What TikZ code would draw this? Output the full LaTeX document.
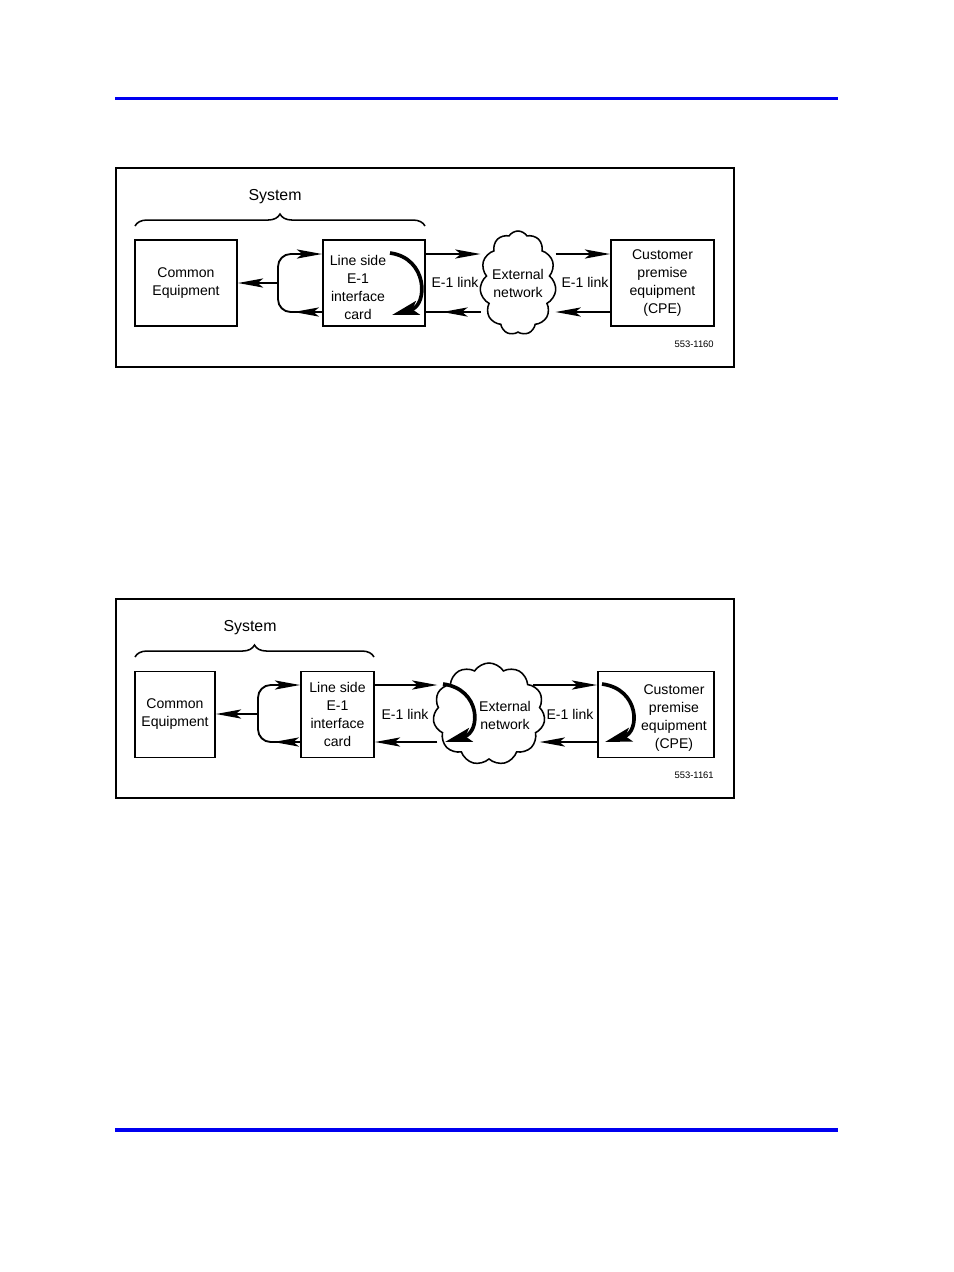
\documentclass[tikz,border=0pt]{standalone}
\usepackage{fontspec}
\setmainfont{Liberation Sans}
\usetikzlibrary{arrows.meta,positioning,shapes.symbols,decorations.pathreplacing,decorations.markings,calc}

\begin{document}
\begin{tikzpicture}[x=0.025cm, y=-0.025cm,
  blk/.style={draw=black, line width=1.3pt, rectangle, inner sep=0pt,
    minimum height=2.15cm, align=center, font=\fontsize{10}{12.8}\selectfont},
  txt/.style={align=center, inner sep=0pt, font=\fontsize{10}{12.8}\selectfont},
  net/.style={draw=black, line width=1.1pt, cloud, cloud puffs=11, cloud puff arc=115,
    cloud ignores aspect, inner sep=0pt, align=center, font=\fontsize{10}{12.8}\selectfont},
  link/.style={line width=1.3pt, -{Stealth[length=18pt,width=6.5pt,inset=4pt]}},
  midlink/.style={line width=1.3pt, postaction={decorate},
    decoration={markings, mark=at position #1 with {\arrow{Stealth[length=18pt,width=6.5pt,inset=4pt]}}}},
  turn/.style={line width=2.6pt, -{Stealth[length=19pt,width=10pt,inset=4pt]}},
  grp/.style={line width=1.1pt, decorate, decoration={brace, amplitude=8.5pt}},
  box/.style={draw=black, line width=1.5pt},
  bar/.style={draw={rgb,255:red,0;green,0;blue,240}, line width=2.6pt},
  figno/.style={anchor=east, inner sep=0pt, font=\fontsize{6.7}{8}\selectfont},
]
\useasboundingbox (0,0) rectangle (954,1272);

%==================== rules ====================
\draw[bar] (115,98.5) -- (838,98.5);
\draw[bar] (115,1130) -- (838,1130);

%==================== figure 553-1160 ====================
\draw[box] (116,168) rectangle (734,367);
\node[txt, font=\fontsize{11.3}{13}\selectfont] (sys1) at (275,197) {System};
\draw[grp] (135,226) -- (425,226);

\node[blk, minimum width=2.55cm] (ce1) at (186,283) {Common\\Equipment};
\node[blk, minimum width=2.55cm] (ls1) at (374,283) {};
\node[txt] (ls1t) at (358,287) {Line side\\E-1\\interface\\card};
\node[net, minimum width=1.8cm, minimum height=2.6cm] (net1) at (518,283) {External\\network};
\node[blk, minimum width=2.575cm] (cpe1) at (662.5,283) {Customer\\premise\\equipment\\(CPE)};
\node[txt] (lk1a) at (455,282) {E-1 link};
\node[txt] (lk1b) at (585,282) {E-1 link};
\node[figno] (no1) at (714,344) {553-1160};

\coordinate (hi1) at (0,254);
\coordinate (lo1) at (0,312);
\coordinate (fk1) at (278,283);
\draw[link] (fk1) -- (ce1.east |- fk1);
\draw[link, rounded corners=9] (fk1) |- (ls1.west |- hi1);
\draw[midlink=0.42, rounded corners=9] (ls1.west |- lo1) -| (fk1);
\draw[link] (ls1.east |- hi1) -- (net1.west |- hi1);
\draw[midlink=0.7] (net1.west |- lo1) -- (ls1.east |- lo1);
\draw[link] (net1.east |- hi1) -- (cpe1.west |- hi1);
\draw[link] (cpe1.west |- lo1) -- (net1.east |- lo1);
% card loops the signal back
\draw[turn] (390,253) .. controls (428,258) and (428,305) .. (392,315);

%==================== figure 553-1161 ====================
\draw[box] (116,599) rectangle (734,798);
\node[txt, font=\fontsize{11.3}{13}\selectfont] (sys2) at (250,628) {System};
\draw[grp] (135,657) -- (374,657);

\node[blk, minimum width=2.0cm] (ce2) at (175,714.5) {Common\\Equipment};
\node[blk, minimum width=1.825cm] (ls2) at (337.5,714.5) {Line side\\E-1\\interface\\card};
\node[net, minimum width=2.8cm, minimum height=2.55cm] (net2) at (489,714) {};
\node[txt] (net2t) at (505,715) {External\\network};
\node[blk, minimum width=2.9cm] (cpe2) at (656,714.5) {};
\node[txt] (cpe2t) at (674,718) {Customer\\premise\\equipment\\(CPE)};
\node[txt] (lk2a) at (405,714) {E-1 link};
\node[txt] (lk2b) at (570,714) {E-1 link};
\node[figno] (no2) at (714,775) {553-1161};

\coordinate (hi2) at (0,685);
\coordinate (lo2) at (0,742);
\coordinate (fk2) at (258,714);
\draw[link] (fk2) -- (ce2.east |- fk2);
\draw[link, rounded corners=9] (fk2) |- (ls2.west |- hi2);
\draw[midlink=0.41, rounded corners=9] (ls2.west |- lo2) -| (fk2);
\draw[link] (ls2.east |- hi2) -- ($(net2.west |- hi2)+(4,0)$);
\draw[link] ($(net2.west |- lo2)+(4,0)$) -- (ls2.east |- lo2);
\draw[link] ($(net2.east |- hi2)+(-12,0)$) -- (cpe2.west |- hi2);
\draw[link] (cpe2.west |- lo2) -- ($(net2.east |- lo2)+(-5,0)$);
% network and CPE loop the signal back
\draw[turn] (443,684) .. controls (481,689) and (481,732) .. (445,742);
\draw[turn] (602,684) .. controls (640,689) and (640,732) .. (605,742);

\end{tikzpicture}
\end{document}
